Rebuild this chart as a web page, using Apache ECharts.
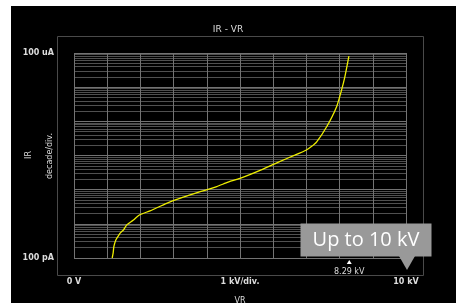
<!DOCTYPE html>
<html>
<head>
<meta charset="utf-8">
<title>IR - VR</title>
<script src="https://cdn.jsdelivr.net/npm/echarts@6/dist/echarts.min.js"></script>
<style>
  html, body { margin: 0; padding: 0; background: #fff; }
  #main { width: 456px; height: 303px; }
</style>
</head>
<body>
<div id="main"></div>
<script>
// reverse voltage (kV) and reverse current (A)
var vr = [1.15, 1.18, 1.2, 1.26, 1.35, 1.41, 1.49, 1.59, 1.79, 1.97, 2.29, 2.79, 3.29, 3.8, 4.3, 4.64,
          5.0, 5.64, 6.14, 6.65, 7.0, 7.15, 7.31, 7.61, 7.91, 8.06, 8.16, 8.28];
var ir = [1.0e-10, 1.41e-10, 2.14e-10, 3.39e-10, 4.68e-10, 5.62e-10, 6.61e-10, 9.33e-10, 1.29e-9, 1.82e-9,
          2.40e-9, 3.98e-9, 6.03e-9, 8.71e-9, 1.23e-8, 1.66e-8, 2.14e-8, 3.80e-8, 6.31e-8, 1.02e-7,
          1.45e-7, 1.82e-7, 2.51e-7, 6.92e-7, 2.69e-6, 8.32e-6, 2.04e-5, 8.13e-5];

var xLabels = ['0 V', '', '', '', '', '1 kV/div.', '', '', '', '', '10 kV'];
var yLabels = ['100 pA', '', '', '', '', '', '100 uA'];

var markerV = 8.29;
var markerText = '8.29 kV';
var limitV = 10;
var calloutText = 'Up to 10 kV';

var pts = vr.map(function (v, i) { return [v, ir[i]]; });

var chart = echarts.init(document.getElementById('main'));
chart.setOption({
  backgroundColor: '#fff',
  animation: false,
  graphic: [
    { type: 'rect', z: -10, shape: { x: 11, y: 6, width: 445, height: 297 }, style: { fill: '#000' } },
    { type: 'rect', z: -5, shape: { x: 57.5, y: 36.5, width: 366, height: 239 }, style: { fill: 'none', stroke: '#4a4a4a', lineWidth: 1 } },
    { type: 'text', x: 29, y: 155, rotation: Math.PI / 2,
      style: { text: 'IR', fill: '#ddd', font: '8px "DejaVu Sans"', align: 'center', verticalAlign: 'middle' } },
    { type: 'text', x: 50, y: 156, rotation: Math.PI / 2,
      style: { text: 'decade/div.', fill: '#ddd', font: '8px "DejaVu Sans"', align: 'center', verticalAlign: 'middle' } }
  ],
  title: {
    text: 'IR - VR', left: 'center', top: 25, padding: 0,
    textStyle: { color: '#ddd', fontSize: 9, fontWeight: 'normal', fontFamily: 'DejaVu Sans' }
  },
  grid: { left: 74, right: 50, top: 53, bottom: 45, outerBoundsMode: 'none' },
  xAxis: {
    type: 'value', min: 0, max: 10, interval: 1,
    name: 'VR', nameLocation: 'middle', nameGap: 39,
    nameTextStyle: { color: '#ddd', fontSize: 8, fontFamily: 'DejaVu Sans' },
    axisLine: { show: false }, axisTick: { show: false },
    axisLabel: {
      color: '#ddd', fontSize: 8, fontWeight: 'bold', fontFamily: 'DejaVu Sans', margin: 20,
      formatter: function (v, i) { return xLabels[i] || ''; }
    },
    splitLine: { show: true, lineStyle: { color: '#737373', width: 1 } }
  },
  yAxis: {
    type: 'log', logBase: 10, min: 1e-10, max: 1e-4, interval: 1,
    axisLine: { show: false }, axisTick: { show: false },
    axisLabel: {
      color: '#ddd', fontSize: 8, fontWeight: 'bold', fontFamily: 'DejaVu Sans', margin: 20,
      formatter: function (v, i) { return yLabels[i] || ''; }
    },
    splitLine: { show: true, lineStyle: { color: '#737373', width: 1 } },
    minorTick: { show: false, splitNumber: 9 },
    minorSplitLine: { show: true, lineStyle: { color: '#505050', width: 1 } }
  },
  series: [{
    type: 'line',
    data: pts,
    showSymbol: false,
    smooth: 0.2,
    lineStyle: { color: '#eeee00', width: 1.3 },
    markPoint: {
      silent: true,
      data: [
        { coord: [markerV, 1e-10], symbol: 'triangle', symbolSize: [5, 4], symbolOffset: [0, 4],
          itemStyle: { color: '#fff' },
          label: { show: true, position: 'bottom', distance: 4, formatter: markerText,
                   color: '#ddd', fontSize: 8, fontFamily: 'DejaVu Sans' } },
        { coord: [limitV, 1e-10], symbol: 'triangle', symbolRotate: 180, symbolSize: [16, 14], symbolOffset: [1, 5],
          itemStyle: { color: '#999' }, label: { show: false } },
        { coord: [limitV, 1e-10], symbol: 'rect', symbolSize: [131, 33], symbolOffset: [-40, -18],
          itemStyle: { color: '#999' },
          label: { show: true, position: 'inside', formatter: calloutText,
                   color: '#fff', fontSize: 20, fontFamily: 'Open Sans' } }
      ]
    }
  }]
});
</script>
</body>
</html>
